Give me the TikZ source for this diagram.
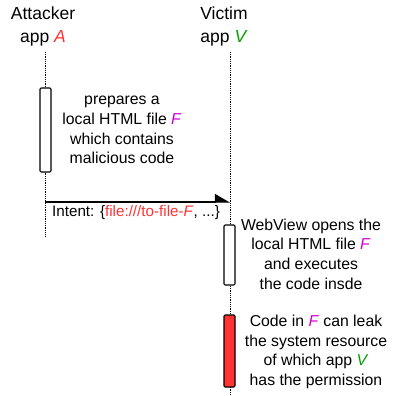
\documentclass[tikz,border=0pt]{standalone}
\usepackage{fontspec}
\setmainfont{Liberation Sans}
\usetikzlibrary{arrows.meta}
\definecolor{cA}{HTML}{FF3333}
\definecolor{cV}{HTML}{00A000}
\definecolor{cF}{HTML}{D000D0}
\begin{document}
\begin{tikzpicture}[x=1pt,y=-1pt,
  txt/.style={font=\fontsize{15.8}{19.7}\selectfont, align=center, inner sep=0pt},
  actor/.style={font=\fontsize{17.5}{23}\selectfont, align=center, inner sep=0pt},
  life/.style={densely dotted, line width=0.8pt},
  actbox/.style={draw, line width=1.1pt, rounded corners=1.2pt, minimum width=11pt, inner sep=0pt},
  msg/.style={line width=1.2pt, -{Triangle[harpoon, length=14pt, width=16pt]}}]
\useasboundingbox (0,0) rectangle (393,396);
% actors
\node[actor] (actA) at (43,26) {Attacker\\app \textcolor{cA}{\textit{A}}};
\node[actor] (actV) at (224,26) {Victim\\app \textcolor{cV}{\textit{V}}};
% lifelines
\coordinate (aTop) at (45,52);
\coordinate (aBot) at (45,236);
\coordinate (vTop) at (230,52);
\coordinate (vBot) at (230,396);
\draw[life] (aTop) -- (aBot);
\draw[life] (vTop) -- (vBot);
% activation boxes
\node[actbox, fill=white, minimum height=84pt] (boxA) at (45.5,130) {};
\node[actbox, fill=white, minimum height=60pt] (boxV1) at (229.5,255) {};
\node[actbox, fill=cA, minimum height=72pt] (boxV2) at (229.5,351) {};
% texts
\node[txt] (tA) at (122,130) {prepares a\\local HTML file \textcolor{cF}{\textit{F}}\\which contains\\malicious code};
\node[txt] (tV1) at (311,254) {WebView opens the\\local HTML file \textcolor{cF}{\textit{F}}\\and executes\\the code insde};
\node[txt] (tV2) at (316,352) {Code in \textcolor{cF}{\textit{F}} can leak\\the system resource\\of which app \textcolor{cV}{\textit{V}}\\has the permission};
% message
\coordinate (mS) at (45,202);
\coordinate (mE) at (230,202);
\draw[msg] (mS) -- (mE);
\node[font=\fontsize{15.2}{17}\selectfont, inner sep=0pt, anchor=center] (mL) at (136,213) {Intent: \{\textcolor{cA}{file:///to-file-\textit{F}}, ...\}};
\end{tikzpicture}
\end{document}
